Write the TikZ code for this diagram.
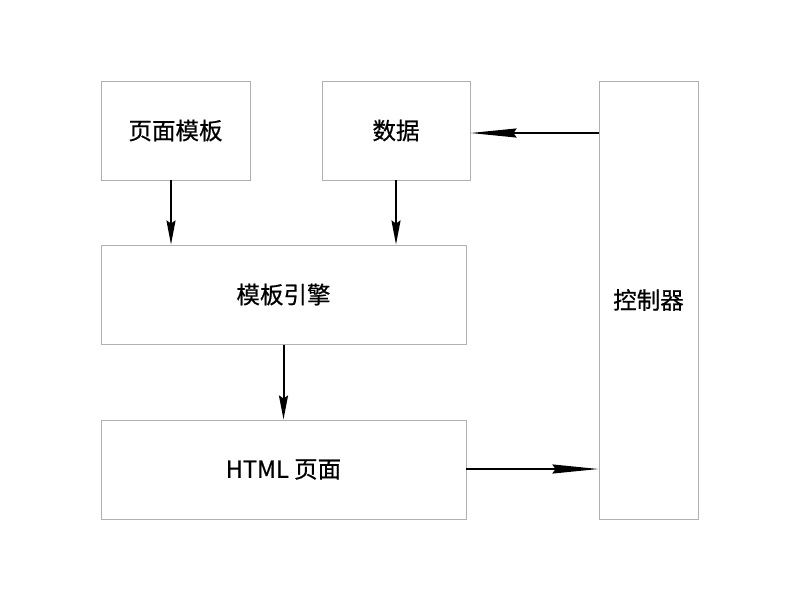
\documentclass[tikz,border=0pt]{standalone}
\usepackage{fontspec}
\setmainfont{Noto Sans CJK SC}[AutoFakeBold=0.6]
\usetikzlibrary{arrows.meta}
\definecolor{boxgray}{HTML}{B0B0B0}
\tikzset{
  blk/.style={draw=boxgray, line width=1pt, fill=white, inner sep=0pt, font=\fontsize{23.5}{28}\selectfont\bfseries},
  conn/.style={line width=2pt, -{Stealth[length=#1, width=9pt, inset=3pt]}},
  conn/.default=24pt
}
\begin{document}
\begin{tikzpicture}[x=1pt, y=-1pt]
\useasboundingbox (0,0) rectangle (800,600);
\node[blk, minimum width=149pt, minimum height=99pt] (tpl) at (175.5,130.5) {页面模板};
\node[blk, minimum width=148pt, minimum height=99pt] (data) at (396,130.5) {数据};
\node[blk, minimum width=99pt, minimum height=438pt] (ctrl) at (648.5,300) {控制器};
\node[blk, minimum width=365pt, minimum height=99pt] (eng) at (283.5,294.5) {模板引擎};
\node[blk, minimum width=365pt, minimum height=99pt] (html) at (283.5,469.5) {HTML 页面};
\coordinate (a1) at (171,180);
\coordinate (a2) at (396,180);
\draw[conn] (a1) -- (a1 |- eng.north);
\draw[conn] (a2) -- (a2 |- eng.north);
\draw[conn] (eng.south) -- (html.north);
\coordinate (c1) at (599,133);
\draw[conn=46pt] (c1) -- (c1 -| data.east);
\coordinate (h1) at (466,469);
\draw[conn=46pt] (h1) -- (h1 -| ctrl.west);
\end{tikzpicture}
\end{document}
